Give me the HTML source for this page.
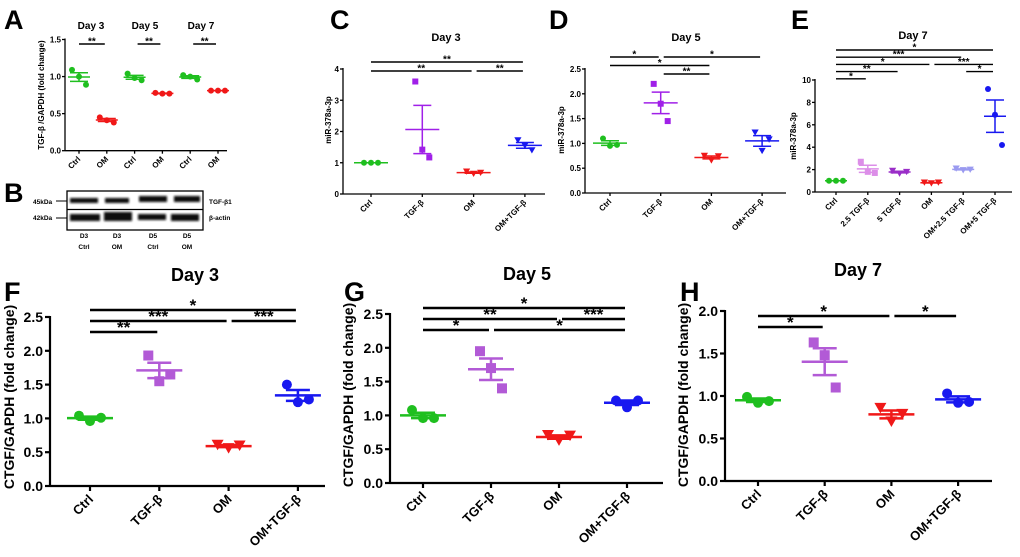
<!DOCTYPE html>
<html><head><meta charset="utf-8">
<style>
html,body{margin:0;padding:0;background:#fff;}
svg{display:block;font-family:"Liberation Sans",Arial,sans-serif;font-weight:bold;}
</style></head>
<body>
<svg id="fig" width="1020" height="557" viewBox="0 0 1020 557" xmlns="http://www.w3.org/2000/svg">
<defs><filter id="blur" x="-20%" y="-50%" width="140%" height="200%"><feGaussianBlur stdDeviation="1.1"/></filter></defs>
<g id="letters" font-size="27" fill="#000">
<text x="4" y="29">A</text>
<text x="4" y="202">B</text>
<text x="330" y="29">C</text>
<text x="549" y="29">D</text>
<text x="791" y="29">E</text>
<text x="4" y="301">F</text>
<text x="344" y="301">G</text>
<text x="680" y="301">H</text>
</g>
<g id="blot">
<rect x="67" y="191" width="136" height="39" fill="#fff" stroke="#000" stroke-width="1.3"/>
<line x1="67" y1="209.5" x2="203" y2="209.5" stroke="#000" stroke-width="1.3"/>
<g filter="url(#blur)" fill="#111">
<rect x="70" y="198" width="28" height="5"/>
<rect x="105" y="198" width="24" height="5"/>
<rect x="139" y="196" width="28" height="6"/>
<rect x="174" y="196" width="26" height="6"/>
<rect x="70" y="214" width="30" height="7"/>
<rect x="104" y="212" width="28" height="9"/>
<rect x="138" y="214" width="28" height="6"/>
<rect x="171" y="214" width="28" height="7"/>
</g>
<g font-size="6.5" fill="#000">
<text x="33" y="204">45kDa</text>
<text x="33" y="220">42kDa</text>
<line x1="56" y1="201" x2="67" y2="201" stroke="#000"/>
<line x1="56" y1="218" x2="67" y2="218" stroke="#000"/>
<text x="209" y="204">TGF-β1</text>
<text x="209" y="220">β-actin</text>
<g text-anchor="middle">
<text x="84" y="238">D3</text><text x="84" y="249">Ctrl</text>
<text x="117" y="238">D3</text><text x="117" y="249">OM</text>
<text x="153" y="238">D5</text><text x="153" y="249">Ctrl</text>
<text x="187" y="238">D5</text><text x="187" y="249">OM</text>
</g></g>
</g>
</svg>
<script>
// ---- Data ----
var aCats = ["Ctrl","OM","Ctrl","OM","Ctrl","OM"];
var aValues = [[1.09,1.0,0.89],[0.45,0.41,0.38],[1.04,0.98,0.95],[0.78,0.77,0.77],[1.02,1.0,0.96],[0.81,0.81,0.81]];
var aTicks = ["0.0","0.5","1.0","1.5"];
var cCats = ["Ctrl","TGF-β","OM","OM+TGF-β"];
var cValues = [[1.0,1.0,1.0],[3.6,1.42,1.17],[0.72,0.65,0.68],[1.72,1.55,1.4]];
var cTicks = ["0","1","2","3","4"];
var dCats = ["Ctrl","TGF-β","OM","OM+TGF-β"];
var dValues = [[1.1,0.95,0.97],[2.2,1.8,1.45],[0.75,0.66,0.74],[1.22,0.85,1.08]];
var dTicks = ["0.0","0.5","1.0","1.5","2.0","2.5"];
var eCats = ["Ctrl","2.5 TGF-β","5 TGF-β","OM","OM+2.5 TGF-β","OM+5 TGF-β"];
var eValues = [[1.0,1.0,1.0],[2.7,1.8,1.7],[1.9,1.65,1.8],[0.85,0.78,0.85],[2.1,1.95,2.0],[9.2,6.9,4.2]];
var eTicks = ["0","2","4","6","8","10"];
var fCats = ["Ctrl","TGF-β","OM","OM+TGF-β"];
var fValues = [[1.04,0.96,1.01],[1.93,1.55,1.65],[0.61,0.56,0.6],[1.5,1.24,1.28]];
var fTicks = ["0.0","0.5","1.0","1.5","2.0","2.5"];
var gCats = ["Ctrl","TGF-β","OM","OM+TGF-β"];
var gValues = [[1.08,0.96,0.96],[1.95,1.7,1.4],[0.71,0.63,0.7],[1.22,1.12,1.22]];
var gTicks = ["0.0","0.5","1.0","1.5","2.0","2.5"];
var hCats = ["Ctrl","TGF-β","OM","OM+TGF-β"];
var hValues = [[0.99,0.92,0.94],[1.63,1.48,1.1],[0.86,0.7,0.79],[1.03,0.92,0.93]];
var hTicks = ["0.0","0.5","1.0","1.5","2.0"];
// significance brackets: [fromIdx, toIdx, level, label]
var aSig = [[0,1,0,"**"],[2,3,0,"**"],[4,5,0,"**"]];
var cSig = [[0,3,0,"**"],[0,2,1,"**"],[2,3,1,"**"]];
var dSig = [[0,1,0,"*"],[1,3,0,"*"],[0,2,1,"*"],[1,2,2,"**"]];
var eSig = [[0,5,0,"*"],[0,4,1,"***"],[0,3,2,"*"],[3,5,2,"***"],[0,2,3,"**"],[4,5,3,"*"],[0,1,4,"*"]];
var fSig = [[0,3,0,"*"],[0,2,1,"***"],[2,3,1,"***"],[0,1,2,"**"]];
var gSig = [[0,3,0,"*"],[0,2,1,"**"],[2,3,1,"***"],[0,1,2,"*"],[1,3,2,"*"]];
var hSig = [[0,2,0,"*"],[2,3,0,"*"],[0,1,1,"*"]];

var NS = "http://www.w3.org/2000/svg";
var svg = document.getElementById("fig");
function mk(tag, at, parent){var e=document.createElementNS(NS,tag);for(var k in at)e.setAttribute(k,at[k]);(parent||svg).appendChild(e);return e;}

function panel(p){
  var g = mk("g",{});
  
  
  var tmax = parseFloat(p.ticks[p.ticks.length-1]);
  function ys(v){return p.y0 - (v/tmax)*(p.y0-p.yTop);}
  function xs(i){return p.xStart + i*p.step;}
  var sw = p.big?2.2:1.3;
  var ax = mk("line",{x1:p.x0,y1:p.yTop-1,x2:p.x0,y2:p.y0,stroke:"#000","stroke-width":sw},g);
  
  
  var bx = mk("line",{x1:p.x0,y1:p.y0,x2:p.x1,y2:p.y0,stroke:"#000","stroke-width":sw},g);
  
  
  p.ticks.forEach(function(t){
    var y=ys(parseFloat(t));
    mk("line",{x1:p.x0-(p.big?5:3),y1:y,x2:p.x0,y2:y,stroke:"#000","stroke-width":sw},g);
    var tx = mk("text",{x:p.x0-(p.big?7:4),y:y+(p.big?5:3),"text-anchor":"end","font-size":p.big?14:8},g);
    tx.textContent=t;
    
    
  });
  p.cats.forEach(function(c,i){
    var x=xs(i);
    mk("line",{x1:x,y1:p.y0,x2:x,y2:p.y0+(p.big?5:3),stroke:"#000","stroke-width":sw},g);
    var lx=x+(p.big?4:2), ly=p.y0+(p.big?14:9);
    var tx=mk("text",{x:lx,y:ly,"text-anchor":"end","font-size":p.big?13:8,transform:"rotate(-45 "+lx+" "+ly+")"},g);
    tx.textContent=c;
    
    
  });
  var tt=mk("text",{x:p.tx,y:p.ty,"text-anchor":"middle","font-size":p.big?18:11},g);
  tt.textContent=p.title;
  
  
  var yl=mk("text",{x:p.lx,y:p.ly,"text-anchor":"middle","font-size":p.big?14:8,transform:"rotate(-90 "+p.lx+" "+p.ly+")"},g);
  yl.textContent=p.ylabel;
  
  
  var off = p.big?[-11,0,11]:[-7,0,7];
  var r = p.big?5:3;
  var mw = p.big?23:p.mw||17, cw = p.big?12:9;
  p.values.forEach(function(vals,i){
    var col=p.colors[i], x=xs(i), sh=p.shapes[i];
    var sg=mk("g",{},g);
    
    
    var n=vals.length, m=vals.reduce(function(a,b){return a+b;},0)/n;
    var sd=Math.sqrt(vals.reduce(function(a,b){return a+(b-m)*(b-m);},0)/(n-1)), se=sd/Math.sqrt(n);
    vals.forEach(function(v,j){
      var px=x+off[j], py=ys(v), e;
      if(sh==="s") e=mk("rect",{x:px-r,y:py-r,width:2*r,height:2*r,fill:col},sg);
      else if(sh==="t") e=mk("polygon",{points:(px-r*1.2)+","+(py-r)+" "+(px+r*1.2)+","+(py-r)+" "+px+","+(py+r*1.1),fill:col},sg);
      else e=mk("circle",{cx:px,cy:py,r:r,fill:col},sg);
      
      
    });
    var lw=p.big?2.5:1.5;
    var ml=mk("line",{x1:x-mw,y1:ys(m),x2:x+mw,y2:ys(m),stroke:col,"stroke-width":lw},sg);
    
    
    var el=mk("path",{d:"M"+(x-cw)+" "+ys(m+se)+"H"+(x+cw)+"M"+x+" "+ys(m+se)+"V"+ys(m-se)+"M"+(x-cw)+" "+ys(m-se)+"H"+(x+cw),stroke:col,"stroke-width":lw,fill:"none"},sg);
    
    
  });
  p.sig.forEach(function(s){
    var y=p.sigY0 + s[2]*p.sigGap;
    var xa=xs(s[0])+(s[0]>0?3:0), xb=xs(s[1])-2;
    var bl=mk("line",{x1:xa,y1:y,x2:xb,y2:y,stroke:"#000","stroke-width":p.big?2.6:1.4},g);
    
    
    var st=mk("text",{x:(xa+xb)/2,y:y+(p.big?1:0.5),"text-anchor":"middle","font-size":p.big?17:10},g);
    st.textContent=s[3];
    
    
  });
}
var G="#1fbf1f", P="#b25ad6", PD="#a020e8", R="#f01818", B="#1818f0";
panel({name:"panel-a-tgfb-chart",cats:aCats,values:aValues,ticks:aTicks,x0:65,x1:227,yTop:39.5,y0:150.7,xStart:79,step:27.8,
  colors:[G,R,G,R,G,R],shapes:["c","c","c","c","c","c"],title:"",tx:0,ty:0,ylabel:"TGF-β /GAPDH (fold change)",lx:44,ly:95,
  sig:aSig,sigY0:44,sigGap:0,mw:11});
[["Day 3",91],["Day 5",145],["Day 7",201]].forEach(function(d){var t=mk("text",{x:d[1],y:29,"text-anchor":"middle","font-size":10});t.textContent=d[0];

});
panel({name:"panel-c-mir378-day3",cats:cCats,values:cValues,ticks:cTicks,x0:343,x1:545,yTop:69,y0:194,xStart:371,step:51.3,
  colors:[G,PD,R,B],shapes:["c","s","t","t"],title:"Day 3",tx:446,ty:41,ylabel:"miR-378a-3p",lx:331,ly:120,
  sig:cSig,sigY0:62,sigGap:9});
panel({name:"panel-d-mir378-day5",cats:dCats,values:dValues,ticks:dTicks,x0:585,x1:786,yTop:69,y0:193,xStart:610,step:50.7,
  colors:[G,PD,R,B],shapes:["c","s","t","t"],title:"Day 5",tx:686,ty:41,ylabel:"miR-378a-3p",lx:564,ly:130,
  sig:dSig,sigY0:57,sigGap:8.5});
panel({name:"panel-e-mir378-day7",cats:eCats,values:eValues,ticks:eTicks,x0:815,x1:1012,yTop:80,y0:192,xStart:836,step:31.8,
  colors:[G,"#dc8ee8","#9a2ec8",R,"#9a9af0",B],shapes:["c","s","t","t","t","c"],title:"Day 7",tx:913,ty:39,ylabel:"miR-378a-3p",lx:796,ly:136,
  sig:eSig,sigY0:50,sigGap:7.2,mw:11});
panel({name:"panel-f-ctgf-day3",big:true,cats:fCats,values:fValues,ticks:fTicks,x0:50,x1:325,yTop:317,y0:486,xStart:90,step:69.3,
  colors:[G,P,R,B],shapes:["c","s","t","c"],title:"Day 3",tx:195,ty:281,ylabel:"CTGF/GAPDH (fold change)",lx:14,ly:397,
  sig:fSig,sigY0:310,sigGap:11});
panel({name:"panel-g-ctgf-day5",big:true,cats:gCats,values:gValues,ticks:gTicks,x0:390,x1:663,yTop:314,y0:483,xStart:423,step:68,
  colors:[G,P,R,B],shapes:["c","s","t","c"],title:"Day 5",tx:527,ty:280,ylabel:"CTGF/GAPDH (fold change)",lx:353,ly:395,
  sig:gSig,sigY0:308,sigGap:11});
panel({name:"panel-h-ctgf-day7",big:true,cats:hCats,values:hValues,ticks:hTicks,x0:725,x1:992,yTop:311,y0:481,xStart:758,step:66.7,
  colors:[G,P,R,B],shapes:["c","s","t","c"],title:"Day 7",tx:858,ty:276,ylabel:"CTGF/GAPDH (fold change)",lx:688,ly:395,
  sig:hSig,sigY0:316,sigGap:11});
</script>
</body></html>
